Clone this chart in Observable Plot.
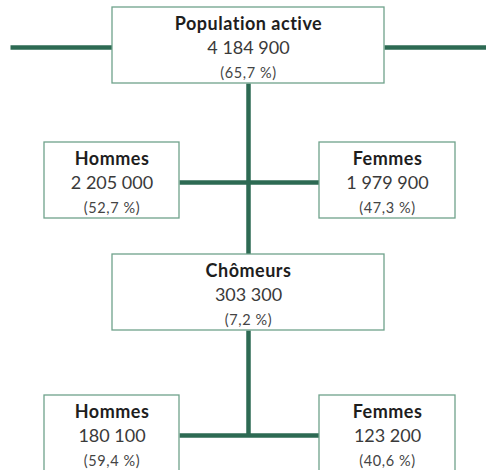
<!DOCTYPE html>
<html><head><meta charset="utf-8">
<script src="https://cdn.jsdelivr.net/npm/d3@7"></script>
<script src="https://cdn.jsdelivr.net/npm/@observablehq/plot@0.6"></script>
<style>html,body{margin:0;padding:0;background:#fff;overflow:hidden}
.ttl text{letter-spacing:0.5px}
.pct text{letter-spacing:0.6px}
</style>
</head><body><div id="chart"></div>
<script>
// Data
const labels = ["Population active", "Hommes", "Femmes", "Chômeurs", "Hommes", "Femmes"];
const values = ["4 184 900", "2 205 000", "1 979 900", "303 300", "180 100", "123 200"];
const percents = ["(65,7 %)", "(52,7 %)", "(47,3 %)", "(7,2 %)", "(59,4 %)", "(40,6 %)"];
// Tree structure: level (row) and side (-1 left, 0 centre, 1 right)
const rows = [0, 1, 1, 2, 3, 3];
const sides = [0, -1, 1, 0, -1, 1];

// Layout (pixels)
const W = 486, H = 470;
const rowTop = [7, 142, 254, 395];
const boxH = 76;
const centerX = {"-1": 111.5, "0": 248, "1": 387};
const halfW = {"-1": 67.5, "0": 136, "1": 68};
const midOff = 40;

const nodes = labels.map((l, i) => {
  const s = sides[i], r = rows[i];
  return {label: l, value: values[i], pct: percents[i],
    cx: centerX[s], x1: centerX[s] - halfW[s], x2: centerX[s] + halfW[s],
    y1: rowTop[r], y2: rowTop[r] + boxH, mid: rowTop[r] + midOff};
});

const N = nodes;
const links = [
  {x1: 10, y1: N[0].mid, x2: N[0].x1, y2: N[0].mid},
  {x1: N[0].x2, y1: N[0].mid, x2: W, y2: N[0].mid},
  {x1: N[0].cx, y1: N[0].y2, x2: N[3].cx, y2: N[3].y1},
  {x1: N[1].x2, y1: N[1].mid, x2: N[2].x1, y2: N[2].mid},
  {x1: N[3].cx, y1: N[3].y2, x2: N[3].cx, y2: N[4].mid},
  {x1: N[4].x2, y1: N[4].mid, x2: N[5].x1, y2: N[5].mid}
];

const green = "#2d6a53";
const border = "#6fa28b";

const chart = Plot.plot({
  width: W, height: H,
  margin: 0,
  style: {fontFamily: "Lato, 'Open Sans', sans-serif", background: "#fff"},
  x: {domain: [0, W], range: [0, W], axis: null},
  y: {domain: [0, H], range: [0, H], axis: null},
  marks: [
    Plot.link(links, {x1: "x1", y1: "y1", x2: "x2", y2: "y2", stroke: green, strokeWidth: 4.5, strokeLinecap: "butt"}),
    Plot.rect(nodes, {x1: "x1", x2: "x2", y1: "y1", y2: "y2", fill: "#fff", stroke: border, strokeWidth: 1.3}),
    Plot.text(nodes, {x: "cx", y: d => d.y1 + 17, text: "label", fontSize: 18, fontWeight: "bold", fill: "#1e1e1e", className: "ttl"}),
    Plot.text(nodes, {x: "cx", y: d => d.y1 + 41, text: "value", fontSize: 18, fill: "#3a3a3a"}),
    Plot.text(nodes, {x: "cx", y: d => d.y1 + 66, text: "pct", fontSize: 14.5, fill: "#444", className: "pct"})
  ]
});
document.getElementById("chart").appendChild(chart);
</script>
</body></html>
